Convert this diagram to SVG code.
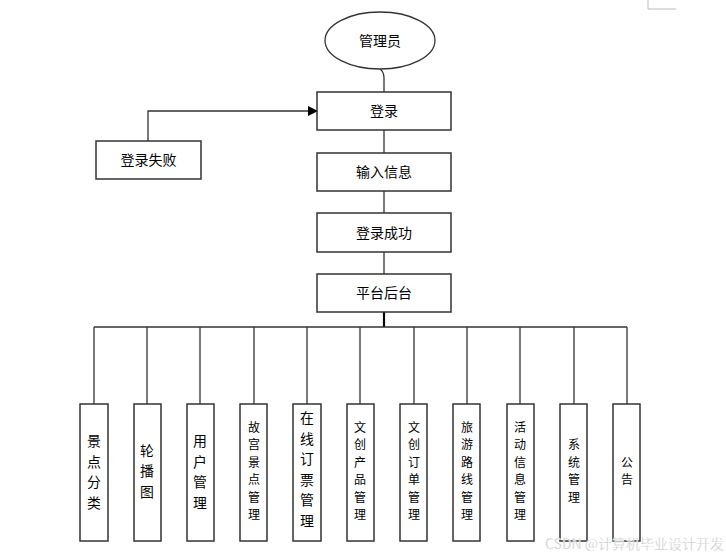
<svg xmlns="http://www.w3.org/2000/svg" width="726" height="557" viewBox="0 0 726 557">
<defs>
<marker id="arr" markerWidth="10" markerHeight="10" refX="9" refY="5" orient="auto" markerUnits="userSpaceOnUse">
<path d="M0,0 L10,5 L0,10 Z" fill="#000"/>
</marker>
<style>
.box{fill:#fff;stroke:#333;stroke-width:1.5}
.ln{fill:none;stroke:#333;stroke-width:1.3}
.t{font-family:"Noto Sans CJK SC","Liberation Sans",sans-serif;font-size:14px;fill:#000;text-anchor:middle}
.v{font-family:"Noto Sans CJK SC","Liberation Sans",sans-serif;fill:#000;text-anchor:middle}
.big{font-size:13.9px}
.sm{font-size:12px}
</style>
</defs>
<rect width="726" height="557" fill="#fff"/>
<path d="M648,0 V9 H676" fill="none" stroke="#bbb" stroke-width="1"/>
<g id="connectors">
<path class="ln" d="M380,69 Q384,72 384,78 V92"/>
<path class="ln" d="M384,130 V153"/>
<path class="ln" d="M384,191 V213"/>
<path class="ln" d="M384,252 V274"/>
<path class="ln" d="M148,141 V111 H317" marker-end="url(#arr)"/>
<path d="M384,312 V327" stroke="#000" stroke-width="2.2" fill="none"/>
<path class="ln" d="M94,327 H627" stroke="#000"/>
<path class="ln" d="M94,327 V404 M147,327 V404 M200,327 V404 M254,327 V404 M307,327 V404 M360,327 V404 M414,327 V404 M467,327 V404 M520,327 V404 M574,327 V404 M627,327 V404"/>
</g>
<g id="admin"><ellipse cx="380" cy="40.5" rx="55" ry="28.5" fill="#fff" stroke="#333" stroke-width="1.3"/><text class="t" x="380" y="46">管理员</text></g>
<g id="login"><rect class="box" x="317" y="92" width="134" height="38"/><text class="t" x="384" y="116">登录</text></g>
<g id="loginfail"><rect class="box" x="96" y="141" width="105" height="38"/><text class="t" x="148.5" y="165">登录失败</text></g>
<g id="input"><rect class="box" x="317" y="153" width="134" height="38"/><text class="t" x="384" y="177">输入信息</text></g>
<g id="success"><rect class="box" x="317" y="213" width="134" height="39"/><text class="t" x="384" y="238">登录成功</text></g>
<g id="platform"><rect class="box" x="317" y="274" width="134" height="38"/><text class="t" x="384" y="298">平台后台</text></g>

<g id="m1"><rect class="box" x="80" y="404" width="28" height="137"/>
<text class="v big" x="94"><tspan x="94" y="446">景</tspan><tspan x="94" y="466.5">点</tspan><tspan x="94" y="487">分</tspan><tspan x="94" y="507.5">类</tspan></text></g>
<g id="m2"><rect class="box" x="134" y="404" width="27" height="137"/>
<text class="v big" x="147"><tspan x="147" y="455.6">轮</tspan><tspan x="147" y="476.1">播</tspan><tspan x="147" y="496.6">图</tspan></text></g>
<g id="m3"><rect class="box" x="187" y="404" width="27" height="137"/>
<text class="v big" x="200"><tspan x="200" y="446">用</tspan><tspan x="200" y="466.5">户</tspan><tspan x="200" y="487">管</tspan><tspan x="200" y="507.5">理</tspan></text></g>
<g id="m4"><rect class="box" x="240" y="404" width="27" height="137"/>
<text class="v sm" x="254"><tspan x="254" y="431.8">故</tspan><tspan x="254" y="449.3">宫</tspan><tspan x="254" y="466.8">景</tspan><tspan x="254" y="484.3">点</tspan><tspan x="254" y="501.8">管</tspan><tspan x="254" y="519.3">理</tspan></text></g>
<g id="m5"><rect class="box" x="293" y="404" width="28" height="137"/>
<text class="v big" x="307"><tspan x="307" y="423">在</tspan><tspan x="307" y="443.5">线</tspan><tspan x="307" y="464">订</tspan><tspan x="307" y="484.5">票</tspan><tspan x="307" y="505">管</tspan><tspan x="307" y="525.5">理</tspan></text></g>
<g id="m6"><rect class="box" x="347" y="404" width="27" height="137"/>
<text class="v sm" x="360"><tspan x="360" y="431.8">文</tspan><tspan x="360" y="449.3">创</tspan><tspan x="360" y="466.8">产</tspan><tspan x="360" y="484.3">品</tspan><tspan x="360" y="501.8">管</tspan><tspan x="360" y="519.3">理</tspan></text></g>
<g id="m7"><rect class="box" x="400" y="404" width="27" height="137"/>
<text class="v sm" x="414"><tspan x="414" y="431.8">文</tspan><tspan x="414" y="449.3">创</tspan><tspan x="414" y="466.8">订</tspan><tspan x="414" y="484.3">单</tspan><tspan x="414" y="501.8">管</tspan><tspan x="414" y="519.3">理</tspan></text></g>
<g id="m8"><rect class="box" x="453" y="404" width="27" height="137"/>
<text class="v sm" x="467"><tspan x="467" y="431.8">旅</tspan><tspan x="467" y="449.3">游</tspan><tspan x="467" y="466.8">路</tspan><tspan x="467" y="484.3">线</tspan><tspan x="467" y="501.8">管</tspan><tspan x="467" y="519.3">理</tspan></text></g>
<g id="m9"><rect class="box" x="507" y="404" width="27" height="137"/>
<text class="v sm" x="520"><tspan x="520" y="431.8">活</tspan><tspan x="520" y="449.3">动</tspan><tspan x="520" y="466.8">信</tspan><tspan x="520" y="484.3">息</tspan><tspan x="520" y="501.8">管</tspan><tspan x="520" y="519.3">理</tspan></text></g>
<g id="m10"><rect class="box" x="560" y="404" width="27" height="137"/>
<text class="v sm" x="574"><tspan x="574" y="449.3">系</tspan><tspan x="574" y="466.8">统</tspan><tspan x="574" y="484.3">管</tspan><tspan x="574" y="501.8">理</tspan></text></g>
<g id="m11"><rect class="box" x="613" y="404" width="27" height="137"/>
<text class="v sm" x="627"><tspan x="627" y="466.8">公</tspan><tspan x="627" y="484.3">告</tspan></text></g>

<text x="545" y="549" font-family="'Noto Sans CJK SC','Liberation Sans',sans-serif" font-size="14" fill="#c8c8c8" stroke="#fff" stroke-width="0.3">CSDN @计算机毕业设计开发</text>
</svg>
